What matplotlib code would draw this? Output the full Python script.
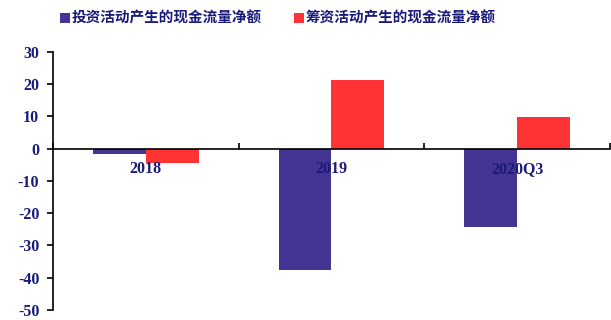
import numpy as np
import matplotlib.pyplot as plt
from matplotlib.ticker import FixedLocator

# 数据
categories = ["2018", "2019", "2020Q3"]
invest_cf = [-1.8, -37.7, -24.2]   # 投资活动产生的现金流量净额
finance_cf = [-4.6, 21.2, 9.8]     # 筹资活动产生的现金流量净额
series_names = ["投资活动产生的现金流量净额", "筹资活动产生的现金流量净额"]

navy = "#1a1a7a"
blue = "#433591"
red = "#ff3333"

plt.rcParams['font.family'] = ['Liberation Serif', 'Noto Sans CJK SC', 'DejaVu Sans']
plt.rcParams['axes.unicode_minus'] = False

fig = plt.figure(figsize=(6.11, 3.2), dpi=100)
ax = fig.add_axes([0.087, 0.032, 0.911, 0.806])

x = np.arange(len(categories))
w = 0.285
b1 = ax.bar(x - w / 2, invest_cf, w, color=blue, zorder=1, label=series_names[0])
b2 = ax.bar(x + w / 2, finance_cf, w, color=red, zorder=1, label=series_names[1])

ax.set_xlim(-0.5, len(categories) - 0.5)
ax.set_ylim(-50, 30)
ax.set_yticks(range(-50, 31, 10))

for s in ["top", "right"]:
    ax.spines[s].set_visible(False)
ax.spines["bottom"].set_position(("data", 0))
ax.spines["left"].set_linewidth(1.2)
ax.spines["bottom"].set_linewidth(1.2)

ax.set_xticks(x)
ax.set_xticklabels(categories)
ax.xaxis.set_minor_locator(FixedLocator(np.arange(-0.5, len(categories), 1)))
ax.tick_params(axis="x", which="major", length=0, pad=9)
ax.tick_params(axis="x", which="minor", direction="in", length=4, width=1.2)
ax.tick_params(axis="y", direction="out", length=4, width=1.2, pad=6)

for lab in ax.get_xticklabels() + ax.get_yticklabels():
    lab.set_fontweight("bold")
    lab.set_fontsize(11.5)
    lab.set_color(navy)
    lab.set_family("Liberation Serif")

leg = fig.legend(handles=[b1, b2], loc="upper center", bbox_to_anchor=(0.455, 1.01),
                 ncol=2, frameon=False, handlelength=0.7, handleheight=0.7,
                 handletextpad=0.1, columnspacing=2.2,
                 prop={"family": "Noto Sans CJK SC", "weight": "bold", "size": 10.5})
for t in leg.get_texts():
    t.set_color(navy)

fig.savefig("out.png", dpi=100)
